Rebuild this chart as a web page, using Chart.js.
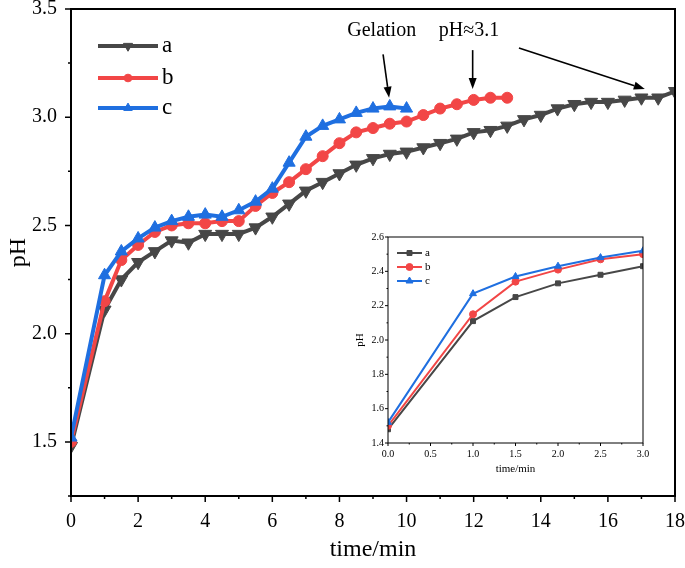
<!DOCTYPE html>
<html lang="en">
<head>
  <meta charset="UTF-8" />
  <title>pH vs time</title>
  <script src="https://cdn.jsdelivr.net/npm/chart.js"></script>
  <style>
    body { margin: 0; background: #fff; }
    #wrap { position: relative; width: 685px; height: 568px; }
    #mainChart { position: absolute; left: 0; top: 0; }
    #insetChart { position: absolute; left: 350px; top: 225px; }
  </style>
</head>
<body>
  <div id="wrap">
    <canvas id="mainChart" width="685" height="568"></canvas>
    <canvas id="insetChart" width="305" height="255"></canvas>
  </div>

  <script>
    // main chart data (time in min, pH)
    const timeA = [0, 1, 1.5, 2, 2.5, 3, 3.5, 4, 4.5, 5, 5.5, 6, 6.5, 7, 7.5, 8, 8.5, 9, 9.5,
                   10, 10.5, 11, 11.5, 12, 12.5, 13, 13.5, 14, 14.5, 15, 15.5, 16, 16.5, 17, 17.5, 18];
    const phA   = [1.48, 2.11, 2.25, 2.33, 2.38, 2.43, 2.42, 2.46, 2.46, 2.46, 2.49, 2.54, 2.60, 2.66, 2.70, 2.74, 2.78, 2.81, 2.83,
                   2.84, 2.86, 2.88, 2.90, 2.93, 2.94, 2.96, 2.99, 3.01, 3.04, 3.06, 3.07, 3.07, 3.08, 3.09, 3.09, 3.12];

    const timeB = [0, 1, 1.5, 2, 2.5, 3, 3.5, 4, 4.5, 5, 5.5, 6, 6.5, 7, 7.5, 8, 8.5, 9, 9.5,
                   10, 10.5, 11, 11.5, 12, 12.5, 13];
    const phB   = [1.50, 2.15, 2.34, 2.41, 2.47, 2.50, 2.51, 2.51, 2.52, 2.52, 2.59, 2.65, 2.70, 2.76, 2.82, 2.88, 2.93, 2.95, 2.97,
                   2.98, 3.01, 3.04, 3.06, 3.08, 3.09, 3.09];

    const timeC = [0, 1, 1.5, 2, 2.5, 3, 3.5, 4, 4.5, 5, 5.5, 6, 6.5, 7, 7.5, 8, 8.5, 9, 9.5, 10];
    const phC   = [1.52, 2.27, 2.38, 2.44, 2.49, 2.52, 2.54, 2.55, 2.54, 2.57, 2.61, 2.67, 2.79, 2.91, 2.96, 2.99, 3.02, 3.04, 3.05, 3.04];

    // inset data (first 3 minutes)
    const insetTime = [0, 1, 1.5, 2, 2.5, 3];
    const insetA = [1.48, 2.11, 2.25, 2.33, 2.38, 2.43];
    const insetB = [1.50, 2.15, 2.34, 2.41, 2.47, 2.50];
    const insetC = [1.52, 2.27, 2.37, 2.43, 2.48, 2.52];

    const seriesNames = ["a", "b", "c"];

    // annotations in data units: [text, t, pH]
    const noteTexts = [["Gelation", 9.26, 3.40], ["pH\u22483.1", 11.86, 3.40]];
    // arrows: [t0, pH0, t1, pH1]
    const noteArrows = [[9.30, 3.29, 9.48, 3.09], [11.97, 3.31, 11.97, 3.13], [13.35, 3.32, 17.10, 3.13]];

    const GRAY = "#474747", RED = "#f24646", BLUE = "#1f6fe0";
    const SERIF = "'Liberation Serif', 'Times New Roman', serif";

    const toXY = (xs, ys) => xs.map((x, i) => ({ x: x, y: ys[i] }));

    function makeSets(d, big) {
      const s = big ? 1 : 0.5;
      const styles = [
        { color: GRAY, pointStyle: "triangle", rotation: 180, r: 7.5 },
        { color: RED, pointStyle: "circle", rotation: 0, r: 5.5 },
        { color: BLUE, pointStyle: "triangle", rotation: 0, r: 7 }
      ];
      return d.map((pts, i) => ({
        label: seriesNames[i],
        data: pts,
        borderColor: styles[i].color,
        backgroundColor: styles[i].color,
        pointBackgroundColor: styles[i].color,
        pointBorderColor: styles[i].color,
        pointStyle: styles[i].pointStyle,
        pointRotation: styles[i].rotation,
        pointRadius: styles[i].r * s,
        pointBorderWidth: 1,
        borderWidth: big ? 4 : 2,
        tension: 0,
        order: 3 - i
      }));
    }

    // box frame + outward tick marks, major where a label exists
    const boxTicks = {
      id: "boxTicks",
      afterDraw(chart, args, opts) {
        const { ctx, chartArea: a, scales } = chart;
        ctx.save();
        ctx.strokeStyle = "#000";
        ctx.lineWidth = opts.lineWidth;
        ctx.strokeRect(a.left, a.top, a.right - a.left, a.bottom - a.top);
        ctx.lineWidth = opts.tickWidth;
        ctx.beginPath();
        scales.x.ticks.forEach(t => {
          const px = scales.x.getPixelForValue(t.value);
          const len = t.label !== "" ? opts.major : opts.minor;
          ctx.moveTo(px, a.bottom);
          ctx.lineTo(px, a.bottom + len);
        });
        scales.y.ticks.forEach(t => {
          const py = scales.y.getPixelForValue(t.value);
          const len = t.label !== "" ? opts.major : opts.minor;
          ctx.moveTo(a.left, py);
          ctx.lineTo(a.left - len, py);
        });
        ctx.stroke();
        ctx.restore();
      }
    };

    // legend drawn as line + marker sample
    const lineLegend = {
      id: "lineLegend",
      afterDraw(chart, args, opts) {
        const { ctx, chartArea: a } = chart;
        ctx.save();
        chart.data.datasets.forEach((ds, i) => {
          const y = a.top + opts.rows[i];
          ctx.strokeStyle = ds.borderColor;
          ctx.fillStyle = ds.backgroundColor;
          ctx.lineWidth = ds.borderWidth;
          ctx.beginPath();
          ctx.moveTo(a.left + opts.x0, y);
          ctx.lineTo(a.left + opts.x1, y);
          ctx.stroke();
          ctx.lineWidth = 1;
          Chart.helpers.drawPoint(ctx, {
            pointStyle: ds.pointStyle, rotation: ds.pointRotation,
            radius: ds.pointRadius * opts.markerScale, borderWidth: 1
          }, a.left + (opts.x0 + opts.x1) / 2, y);
          ctx.fillStyle = "#000";
          ctx.font = opts.font;
          ctx.textBaseline = "middle";
          ctx.textAlign = "left";
          ctx.fillText(ds.label, a.left + opts.textX, y);
        });
        ctx.restore();
      }
    };

    // text labels and arrows placed in data units
    const notes = {
      id: "notes",
      afterDraw(chart, args, opts) {
        if (!opts.show) return;
        const { ctx, scales } = chart;
        const X = v => scales.x.getPixelForValue(v), Y = v => scales.y.getPixelForValue(v);
        ctx.save();
        ctx.fillStyle = "#000";
        ctx.strokeStyle = "#000";
        ctx.font = "20px " + SERIF;
        ctx.textAlign = "center";
        ctx.textBaseline = "middle";
        noteTexts.forEach(n => ctx.fillText(n[0], X(n[1]), Y(n[2])));
        ctx.lineWidth = 1.6;
        noteArrows.forEach(ar => {
          const x0 = X(ar[0]), y0 = Y(ar[1]), x1 = X(ar[2]), y1 = Y(ar[3]);
          const ang = Math.atan2(y1 - y0, x1 - x0);
          const hl = 11, hw = 4;
          const bx = x1 - hl * Math.cos(ang), by = y1 - hl * Math.sin(ang);
          ctx.beginPath();
          ctx.moveTo(x0, y0);
          ctx.lineTo(bx, by);
          ctx.stroke();
          ctx.beginPath();
          ctx.moveTo(x1, y1);
          ctx.lineTo(bx + hw * Math.sin(ang), by - hw * Math.cos(ang));
          ctx.lineTo(bx - hw * Math.sin(ang), by + hw * Math.cos(ang));
          ctx.closePath();
          ctx.fill();
        });
        ctx.restore();
      }
    };

    const isMult = (v, step) => Math.abs(v / step - Math.round(v / step)) < 1e-6;
    const noPadX = h => s => { s.height = h; s.paddingLeft = 0; s.paddingRight = 0; };
    const noPadY = w => s => { s.width = w; s.paddingTop = 0; s.paddingBottom = 0; };

    // main chart
    new Chart(document.getElementById("mainChart"), {
      type: "line",
      data: {
        datasets: makeSets([toXY(timeA, phA), toXY(timeB, phB), toXY(timeC, phC)], true)
      },
      options: {
        responsive: false,
        animation: false,
        layout: { padding: { left: 0, top: 9, right: 10, bottom: 0 } },
        scales: {
          x: {
            type: "linear", min: 0, max: 18,
            afterFit: noPadX(72),
            grid: { display: false, drawTicks: false },
            border: { display: false },
            ticks: {
              stepSize: 1, autoSkip: false, maxRotation: 0, padding: 14,
              color: "#000", font: { family: SERIF, size: 20 },
              callback: v => isMult(v, 2) ? String(v) : ""
            },
            title: { display: true, text: "time/min", color: "#000", font: { family: SERIF, size: 24 } }
          },
          y: {
            min: 1.25, max: 3.5,
            afterFit: noPadY(71),
            grid: { display: false, drawTicks: false },
            border: { display: false },
            ticks: {
              stepSize: 0.25, autoSkip: false, padding: 14,
              color: "#000", font: { family: SERIF, size: 20 },
              callback: v => isMult(v, 0.5) ? v.toFixed(1) : ""
            },
            title: { display: true, text: "pH", color: "#000", font: { family: SERIF, size: 24 } }
          }
        },
        plugins: {
          legend: { display: false },
          tooltip: { enabled: false },
          boxTicks: { lineWidth: 2, tickWidth: 1.5, major: 6, minor: 3 },
          lineLegend: { rows: [37, 69, 99], x0: 27, x1: 87, textX: 91, markerScale: 0.7, font: "23px " + SERIF },
          notes: { show: true }
        }
      },
      plugins: [boxTicks, lineLegend, notes]
    });

    // inset chart
    new Chart(document.getElementById("insetChart"), {
      type: "line",
      data: {
        datasets: makeSets([toXY(insetTime, insetA), toXY(insetTime, insetB), toXY(insetTime, insetC)], false)
          .map((ds, i) => Object.assign(ds, i === 0 ? { pointStyle: "rect", pointRotation: 0, pointRadius: 3.5 } : { pointRadius: i === 1 ? 3.5 : 4 }))
      },
      options: {
        responsive: false,
        animation: false,
        layout: { padding: { left: 0, top: 12, right: 12, bottom: 0 } },
        scales: {
          x: {
            type: "linear", min: 0, max: 3,
            afterFit: noPadX(37),
            grid: { display: false, drawTicks: false },
            border: { display: false },
            ticks: {
              stepSize: 0.25, autoSkip: false, maxRotation: 0, padding: 5,
              color: "#000", font: { family: SERIF, size: 10 },
              callback: v => isMult(v, 0.5) ? v.toFixed(1) : ""
            },
            title: { display: true, text: "time/min", color: "#000", font: { family: SERIF, size: 11 } }
          },
          y: {
            min: 1.4, max: 2.6,
            afterFit: noPadY(38),
            grid: { display: false, drawTicks: false },
            border: { display: false },
            ticks: {
              stepSize: 0.1, autoSkip: false, padding: 4,
              color: "#000", font: { family: SERIF, size: 10 },
              callback: v => isMult(v, 0.2) ? v.toFixed(1) : ""
            },
            title: { display: true, text: "pH", color: "#000", font: { family: SERIF, size: 11 } }
          }
        },
        plugins: {
          legend: { display: false },
          tooltip: { enabled: false },
          boxTicks: { lineWidth: 1, tickWidth: 1, major: 3, minor: 1.5 },
          lineLegend: { rows: [16, 30, 44], x0: 9, x1: 34, textX: 37, markerScale: 1, font: "11px " + SERIF },
          notes: { show: false }
        }
      },
      plugins: [boxTicks, lineLegend, notes]
    });
  </script>
</body>
</html>
